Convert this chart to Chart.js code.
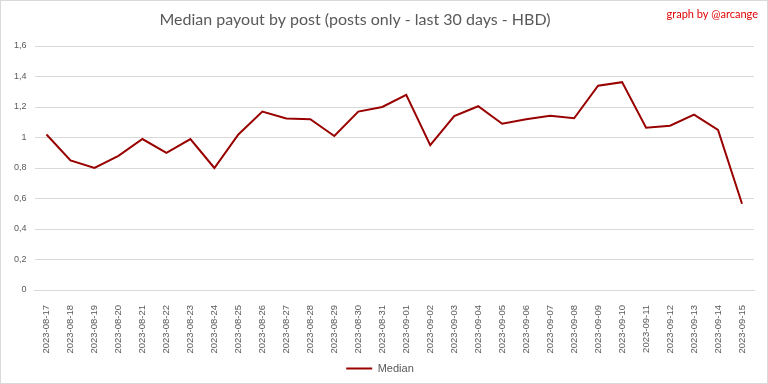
<!DOCTYPE html>
<html>
<head>
<meta charset="utf-8">
<script src="https://cdn.jsdelivr.net/npm/chart.js@4"></script>
<style>
  html, body { margin: 0; padding: 0; background: #fff; }
  #wrap { width: 768px; height: 384px; }
</style>
</head>
<body>
<div id="wrap"><canvas id="chart" width="768" height="384"></canvas></div>
<script>
const dates = [
  "2023-08-17", "2023-08-18", "2023-08-19", "2023-08-20", "2023-08-21", "2023-08-22",
  "2023-08-23", "2023-08-24", "2023-08-25", "2023-08-26", "2023-08-27", "2023-08-28",
  "2023-08-29", "2023-08-30", "2023-08-31", "2023-09-01", "2023-09-02", "2023-09-03",
  "2023-09-04", "2023-09-05", "2023-09-06", "2023-09-07", "2023-09-08", "2023-09-09",
  "2023-09-10", "2023-09-11", "2023-09-12", "2023-09-13", "2023-09-14", "2023-09-15"
];
const median = [
  1.02, 0.85, 0.80, 0.88, 0.99, 0.90,
  0.99, 0.80, 1.02, 1.17, 1.125, 1.12,
  1.01, 1.17, 1.20, 1.28, 0.95, 1.14,
  1.205, 1.09, 1.12, 1.143, 1.126, 1.34,
  1.363, 1.064, 1.077, 1.15, 1.05, 0.566
];
const yTicks = [0, 0.2, 0.4, 0.6, 0.8, 1, 1.2, 1.4, 1.6];

const gray = "#595959";
const titleText = "Median payout by post (posts only - last 30 days - HBD)";

// title (a bit left of centre, like the original), frame and signature
const extras = {
  id: "extras",
  afterDraw(chart) {
    const c = chart.ctx;
    c.save();
    c.strokeStyle = "#d9d9d9";
    c.lineWidth = 1;
    c.strokeRect(0.5, 0.5, 767, 383);

    c.fillStyle = gray;
    c.font = "16px Lato, 'Open Sans', sans-serif";
    c.textAlign = "center";
    c.textBaseline = "middle";
    c.fillText(titleText, 355, 20);

    c.fillStyle = "#e00000";
    c.font = "11px Lato, 'Open Sans', sans-serif";
    c.textAlign = "right";
    c.fillText("graph by @arcange", 758, 14);
    c.restore();
  }
};

new Chart(document.getElementById("chart"), {
  type: "line",
  data: {
    labels: dates,
    datasets: [{
      label: "Median",
      data: median,
      borderColor: "#990000",
      backgroundColor: "#990000",
      borderWidth: 2,
      pointRadius: 0,
      tension: 0
    }]
  },
  options: {
    responsive: false,
    animation: false,
    layout: { padding: { left: 6, right: 14, top: 46, bottom: 0 } },
    plugins: {
      title: { display: false },
      legend: {
        position: "bottom",
        labels: {
          color: gray,
          font: { family: "'Liberation Sans', Arial, sans-serif", size: 11 },
          usePointStyle: true,
          pointStyle: "line",
          pointStyleWidth: 26,
          boxHeight: 8,
          padding: 10
        }
      },
      tooltip: { enabled: false }
    },
    scales: {
      x: {
        offset: true,
        grid: { display: false },
        border: { color: "#d9d9d9" },
        afterFit(axis) { axis.height = 63; },
        ticks: {
          color: gray,
          font: { family: "'Liberation Sans', Arial, sans-serif", size: 9.5 },
          minRotation: 90,
          maxRotation: 90,
          autoSkip: false,
          padding: 7
        }
      },
      y: {
        min: 0,
        max: 1.6,
        afterBuildTicks(axis) { axis.ticks = yTicks.map(v => ({ value: v })); },
        grid: { color: "#d9d9d9", drawTicks: false },
        border: { display: false },
        ticks: {
          color: gray,
          font: { family: "'Liberation Sans', Arial, sans-serif", size: 9 },
          padding: 8,
          callback: v => String(Math.round(v * 10) / 10).replace(".", ",")
        }
      }
    }
  },
  plugins: [extras]
});
</script>
</body>
</html>
